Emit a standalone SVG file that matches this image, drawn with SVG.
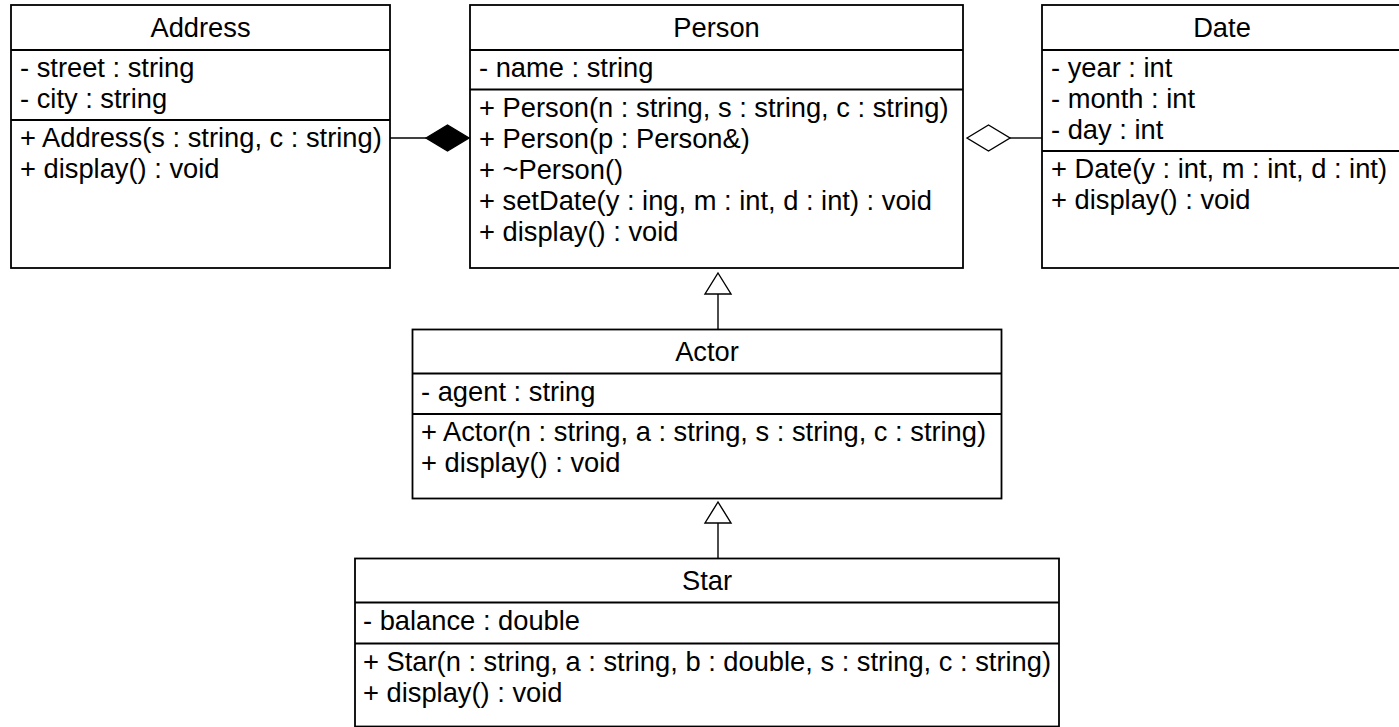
<svg xmlns="http://www.w3.org/2000/svg" width="1399" height="727" viewBox="0 0 1399 727">
  <style>
    .box { fill: #ffffff; stroke: #000000; stroke-width: 1.8; }
    .sep { stroke: #000000; stroke-width: 1.8; }
    .edge { stroke: #000000; stroke-width: 1.4; fill: none; }
    .head-filled { fill: #000000; stroke: #000000; stroke-width: 1.4; }
    .head-open { fill: #ffffff; stroke: #000000; stroke-width: 1.4; }
    text { font-family: "Liberation Sans", Arial, sans-serif; font-size: 27.3px; fill: #000000; }
    .title { text-anchor: middle; }
  </style>

  <rect width="1399" height="727" fill="#ffffff"/>

  <!-- Connectors -->
  <g id="connectors">
    <!-- Person ◆— Address (composition) -->
    <line class="edge" x1="390" y1="138" x2="426" y2="138"/>
    <polygon class="head-filled" points="426,138 447.5,125 469,138 447.5,151"/>
    <!-- Person ◇— Date (aggregation) -->
    <line class="edge" x1="1010" y1="138" x2="1042" y2="138"/>
    <polygon class="head-open" points="967,138 988.5,125 1010,138 988.5,151"/>
    <!-- Actor —▷ Person (generalization) -->
    <line class="edge" x1="718" y1="294" x2="718" y2="329.5"/>
    <polygon class="head-open" points="718,273 731,294 705,294"/>
    <!-- Star —▷ Actor (generalization) -->
    <line class="edge" x1="718" y1="523" x2="718" y2="558.5"/>
    <polygon class="head-open" points="718,502 731,523 705,523"/>
  </g>

  <!-- Address -->
  <g id="address">
    <rect class="box" x="11" y="5" width="379" height="263"/>
    <line class="sep" x1="11" y1="50" x2="390" y2="50"/>
    <line class="sep" x1="11" y1="120" x2="390" y2="120"/>
    <text class="title" x="200.5" y="37">Address</text>
    <text x="20" y="77">- street : string</text>
    <text x="20" y="108">- city : string</text>
    <text x="20" y="147">+ Address(s : string, c : string)</text>
    <text x="20" y="178">+ display() : void</text>
  </g>

  <!-- Person -->
  <g id="person">
    <rect class="box" x="470" y="5" width="493" height="263"/>
    <line class="sep" x1="470" y1="50" x2="963" y2="50"/>
    <line class="sep" x1="470" y1="89.5" x2="963" y2="89.5"/>
    <text class="title" x="716.5" y="37">Person</text>
    <text x="479" y="77">- name : string</text>
    <text x="479" y="116.5">+ Person(n : string, s : string, c : string)</text>
    <text x="479" y="147.5">+ Person(p : Person&amp;)</text>
    <text x="479" y="178.5">+ ~Person()</text>
    <text x="479" y="209.5">+ setDate(y : ing, m : int, d : int) : void</text>
    <text x="479" y="240.5">+ display() : void</text>
  </g>

  <!-- Date -->
  <g id="date">
    <rect class="box" x="1042" y="5" width="360" height="263"/>
    <line class="sep" x1="1042" y1="50" x2="1402" y2="50"/>
    <line class="sep" x1="1042" y1="151" x2="1402" y2="151"/>
    <text class="title" x="1222" y="37">Date</text>
    <text x="1051" y="77">- year : int</text>
    <text x="1051" y="108">- month : int</text>
    <text x="1051" y="139">- day : int</text>
    <text x="1051" y="178">+ Date(y : int, m : int, d : int)</text>
    <text x="1051" y="209">+ display() : void</text>
  </g>

  <!-- Actor -->
  <g id="actor">
    <rect class="box" x="412.5" y="329.5" width="589" height="169"/>
    <line class="sep" x1="412.5" y1="373.5" x2="1001.5" y2="373.5"/>
    <line class="sep" x1="412.5" y1="414" x2="1001.5" y2="414"/>
    <text class="title" x="707" y="361">Actor</text>
    <text x="421" y="400.5">- agent : string</text>
    <text x="421" y="441">+ Actor(n : string, a : string, s : string, c : string)</text>
    <text x="421" y="472">+ display() : void</text>
  </g>

  <!-- Star -->
  <g id="star">
    <rect class="box" x="355" y="558.5" width="704" height="168"/>
    <line class="sep" x1="355" y1="602.5" x2="1059" y2="602.5"/>
    <line class="sep" x1="355" y1="643.5" x2="1059" y2="643.5"/>
    <text class="title" x="707" y="590">Star</text>
    <text x="363" y="629.5">- balance : double</text>
    <text x="363" y="670.5">+ Star(n : string, a : string, b : double, s : string, c : string)</text>
    <text x="363" y="701.5">+ display() : void</text>
  </g>
</svg>
